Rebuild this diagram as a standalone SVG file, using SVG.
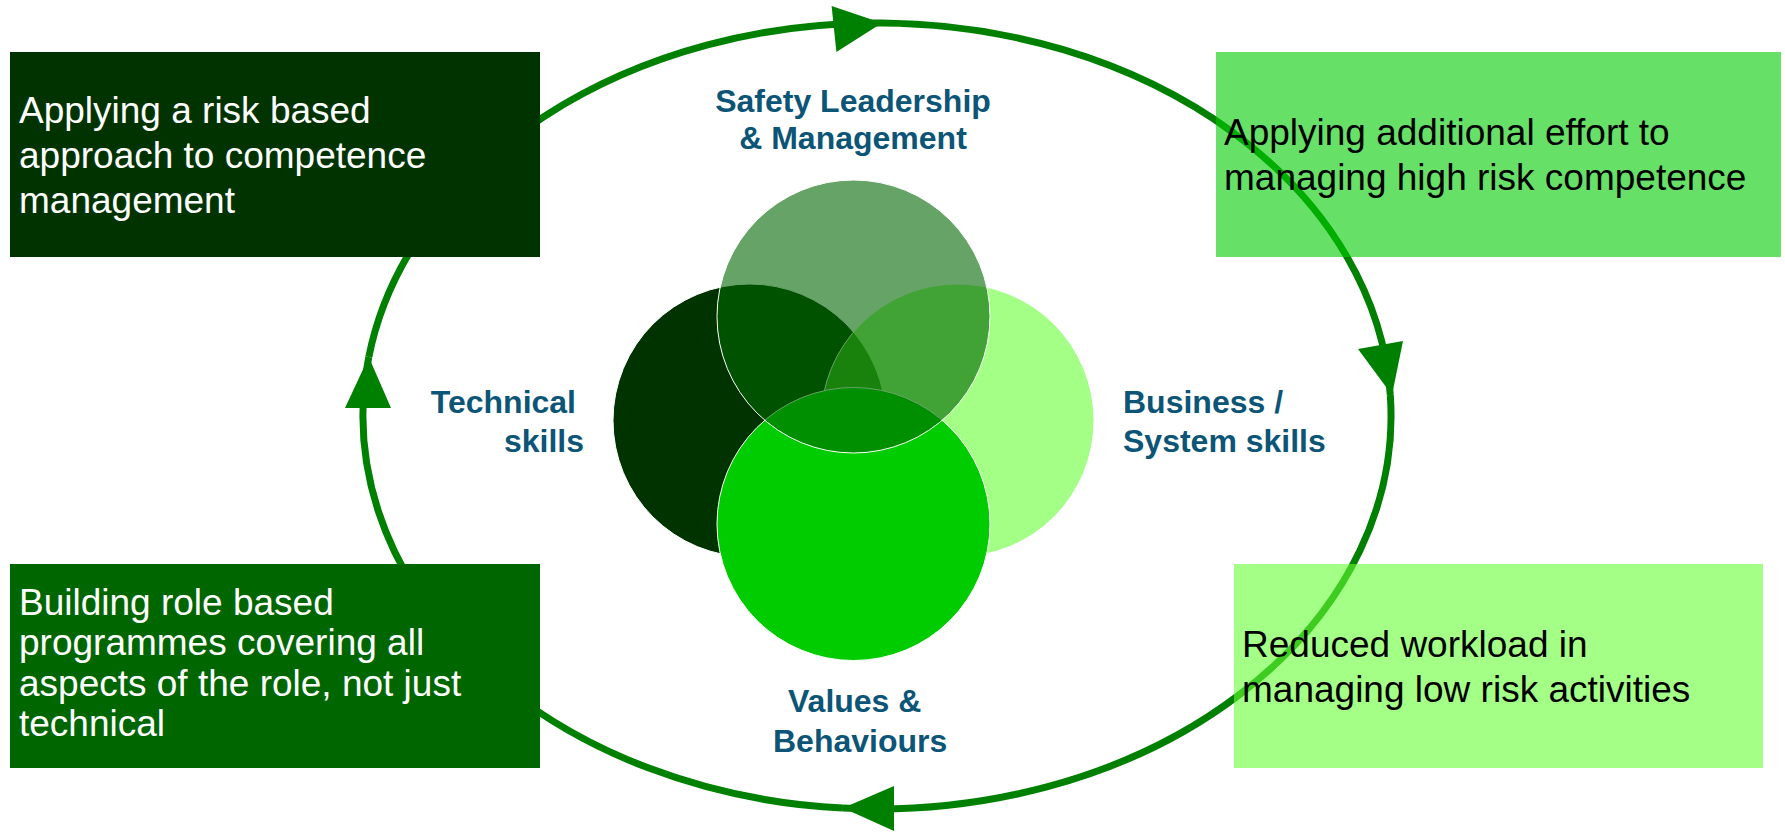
<svg xmlns="http://www.w3.org/2000/svg" width="1785" height="832" viewBox="0 0 1785 832">
<style>
.loop{fill:none;stroke:#008000;stroke-width:7}
.head{fill:#008000}
.venn{stroke:#ffffff;stroke-width:1}
.boxtxt{font-family:"Liberation Sans",Arial,sans-serif;font-size:37px}
.lbl{font-family:"Liberation Sans",Arial,sans-serif;font-size:32px;font-weight:bold;fill:#0C5576}
</style>
<rect x="0" y="0" width="1785" height="832" fill="#ffffff"/>
<g id="connectors">
<path class="loop" d="M368.8,357 A514,393 0 0 1 882,23"/>
<path class="loop" d="M882,23 A514,393 0 0 1 1390.3,395"/>
<path class="loop" d="M1390.3,395 A514,393 0 0 1 843,808.1"/>
<path class="loop" d="M843,808.1 A514,393 0 0 1 368.8,357"/>
<polygon class="head" points="882,23 831.6,6 836.4,52"/>
<polygon class="head" points="1392,395 1358,349 1403,341"/>
<polygon class="head" points="843,808 894,786 894,831"/>
<polygon class="head" points="368.8,357 345,408 391,408"/>
</g>
<g id="venn">
<g id="technical"><circle class="venn" cx="749.5" cy="420.5" r="136.5" fill="#003300"/></g>
<g id="business"><circle class="venn" cx="957.5" cy="420.5" r="136.5" fill="#66FF33" fill-opacity="0.6"/></g>
<g id="values"><circle class="venn" cx="853.5" cy="524" r="136.5" fill="#00CC00"/></g>
<g id="safety"><circle class="venn" cx="853.5" cy="316.5" r="136.5" fill="#006600" fill-opacity="0.6"/></g>
</g>
<g id="label-safety">
<text class="lbl" x="853" y="111.5" text-anchor="middle">Safety Leadership</text>
<text class="lbl" x="853" y="148.5" text-anchor="middle">&amp; Management</text>
</g>
<g id="label-technical">
<text class="lbl" x="576" y="413" text-anchor="end">Technical</text>
<text class="lbl" x="584" y="452" text-anchor="end">skills</text>
</g>
<g id="label-business">
<text class="lbl" x="1123" y="413">Business /</text>
<text class="lbl" x="1123" y="452">System skills</text>
</g>
<g id="label-values">
<text class="lbl" x="788" y="712">Values &amp;</text>
<text class="lbl" x="773" y="752">Behaviours</text>
</g>
<g id="box-risk-based">
<rect x="10" y="52" width="530" height="205" fill="#003300"/>
<text class="boxtxt" fill="#ffffff" x="19" y="123">Applying a risk based</text>
<text class="boxtxt" fill="#ffffff" x="19" y="168">approach to competence</text>
<text class="boxtxt" fill="#ffffff" x="19" y="213">management</text>
</g>
<g id="box-additional-effort">
<rect x="1216" y="52" width="565" height="205" fill="#00CC00" fill-opacity="0.6"/>
<text class="boxtxt" fill="#000000" x="1224" y="145">Applying additional effort to</text>
<text class="boxtxt" fill="#000000" x="1224" y="190">managing high risk competence</text>
</g>
<g id="box-role-based">
<rect x="10" y="564" width="530" height="204" fill="#006600"/>
<text class="boxtxt" fill="#ffffff" x="19" y="615">Building role based</text>
<text class="boxtxt" fill="#ffffff" x="19" y="655">programmes covering all</text>
<text class="boxtxt" fill="#ffffff" x="19" y="696">aspects of the role, not just</text>
<text class="boxtxt" fill="#ffffff" x="19" y="736">technical</text>
</g>
<g id="box-reduced-workload">
<rect x="1234" y="564" width="529" height="204" fill="#66FF33" fill-opacity="0.6"/>
<text class="boxtxt" fill="#000000" x="1242" y="657">Reduced workload in</text>
<text class="boxtxt" fill="#000000" x="1242" y="702">managing low risk activities</text>
</g>
</svg>
